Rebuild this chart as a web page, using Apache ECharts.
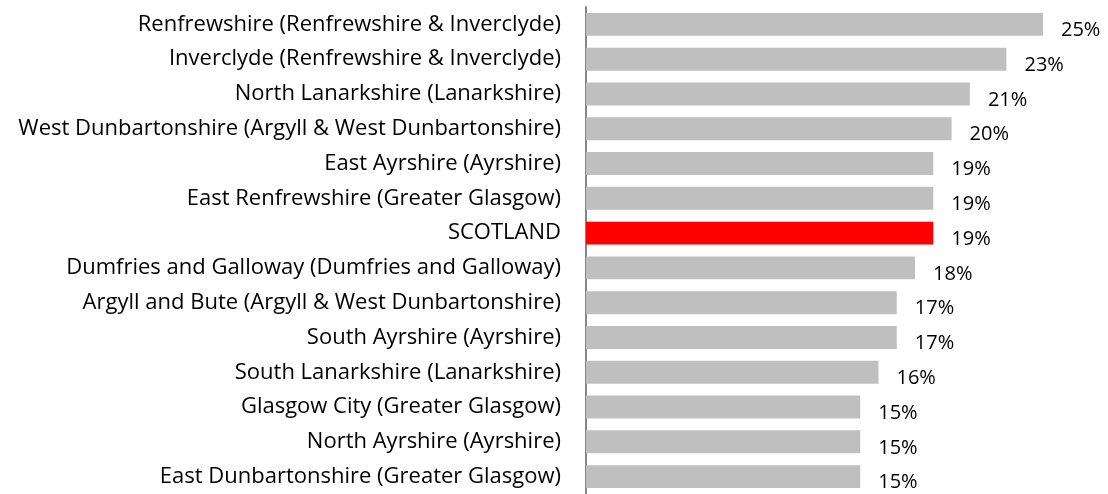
<!DOCTYPE html>
<html>
<head>
<meta charset="utf-8">
<script src="https://cdn.jsdelivr.net/npm/echarts@6/dist/echarts.min.js"></script>
<style>
  html, body { margin: 0; padding: 0; background: #fff; }
  #chart { width: 1108px; height: 494px; }
</style>
</head>
<body>
<div id="chart"></div>
<script>
const categories = [
  'Renfrewshire (Renfrewshire & Inverclyde)',
  'Inverclyde (Renfrewshire & Inverclyde)',
  'North Lanarkshire (Lanarkshire)',
  'West Dunbartonshire (Argyll & West Dunbartonshire)',
  'East Ayrshire (Ayrshire)',
  'East Renfrewshire (Greater Glasgow)',
  'SCOTLAND',
  'Dumfries and Galloway (Dumfries and Galloway)',
  'Argyll and Bute (Argyll & West Dunbartonshire)',
  'South Ayrshire (Ayrshire)',
  'South Lanarkshire (Lanarkshire)',
  'Glasgow City (Greater Glasgow)',
  'North Ayrshire (Ayrshire)',
  'East Dunbartonshire (Greater Glasgow)'
];
const percentValues = [25, 23, 21, 20, 19, 19, 19, 18, 17, 17, 16, 15, 15, 15];
const highlightCategory = 'SCOTLAND';

const chart = echarts.init(document.getElementById('chart'));

const barData = categories.map((name, i) => ({
  value: percentValues[i],
  itemStyle: { color: name === highlightCategory ? '#ff0000' : '#bfbfbf' }
}));

const option = {
  animation: false,
  textStyle: { fontFamily: 'Open Sans', color: '#000' },
  grid: { left: 586, right: 65, top: 7, bottom: -3 },
  xAxis: {
    type: 'value',
    min: 0,
    max: 25,
    show: false
  },
  yAxis: {
    type: 'category',
    inverse: true,
    data: categories,
    axisTick: { show: false },
    axisLine: { show: true, lineStyle: { color: '#868686', width: 2 } },
    axisLabel: { color: '#000', fontSize: 22, fontFamily: 'Open Sans', margin: 25 }
  },
  series: [
    {
      type: 'bar',
      data: barData,
      barCategoryGap: '34%',
      label: {
        show: true,
        position: 'right',
        distance: 18,
        offset: [0, 6],
        formatter: '{c}%',
        color: '#000',
        fontSize: 20,
        fontFamily: 'Open Sans'
      }
    }
  ]
};
chart.setOption(option);
</script>
</body>
</html>
